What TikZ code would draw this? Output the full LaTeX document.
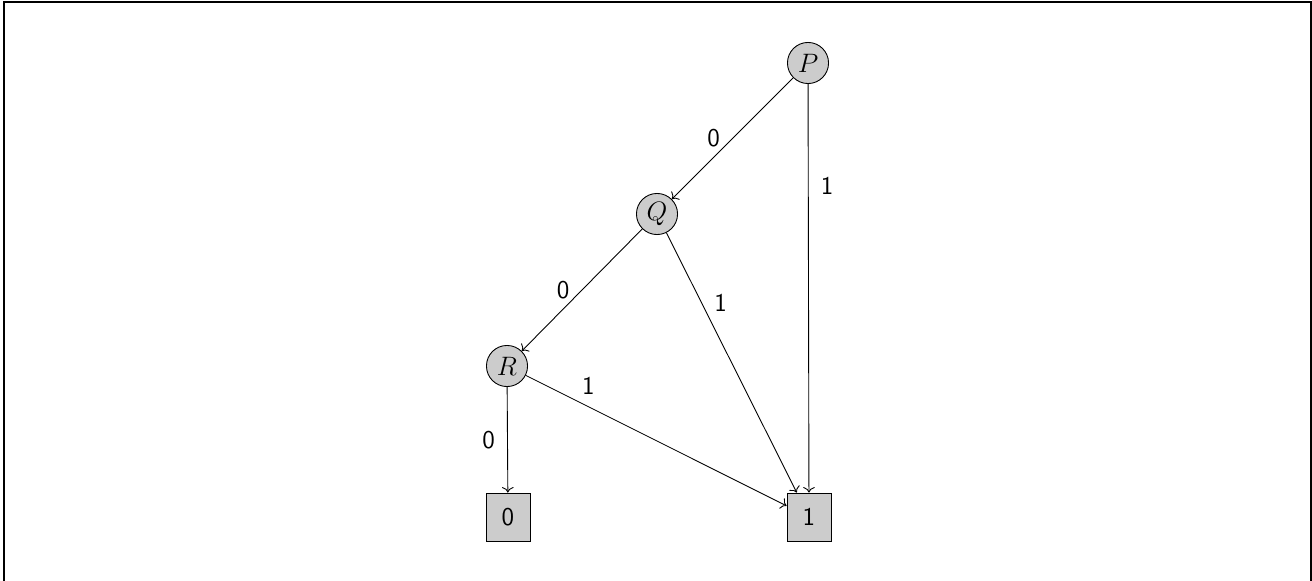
\documentclass[tikz,border=0pt]{standalone}
\usetikzlibrary{arrows.meta}
\begin{document}
\begin{tikzpicture}[x=0.45pt,y=-0.45pt,
  vnode/.style={circle,draw,fill=black!20,minimum size=18.5pt,inner sep=0pt,font=\fontsize{11.5}{13}\selectfont},
  tnode/.style={rectangle,draw,fill=black!20,minimum width=19.8pt,minimum height=21.6pt,inner sep=0pt,font=\sffamily\fontsize{11.5}{13}\selectfont},
  edge/.style={->,line width=0.4pt},
  lab/.style={font=\sffamily\fontsize{11.5}{13}\selectfont,inner sep=5.5pt}]
\useasboundingbox (0,0) rectangle (1312,581);
\begin{scope}
\clip (0,0) rectangle (1312,581);
\draw[line width=0.7pt] (4,620) -- (4,2) -- (1311,2) -- (1311,620);
\end{scope}
\node[vnode] (P) at (808,63) {$P$};
\node[vnode] (Q) at (657,214) {$Q$};
\node[vnode] (R) at (507,366) {$R$};
\node[tnode] (T0) at (508,517) {0};
\node[tnode] (T1) at (809,517) {1};
\draw[edge] (P) -- node[lab,midway,left] {0} (Q);
\draw[edge] (P) -- node[lab,pos=0.25,right] {1} (T1);
\draw[edge] (Q) -- node[lab,midway,left] {0} (R);
\draw[edge] (Q) -- node[lab,pos=0.27,right] {1} (T1);
\draw[edge] (R) -- node[lab,pos=0.24,above] {1} (T1);
\draw[edge] (R) -- node[lab,midway,left] {0} (T0);
\end{tikzpicture}
\end{document}
